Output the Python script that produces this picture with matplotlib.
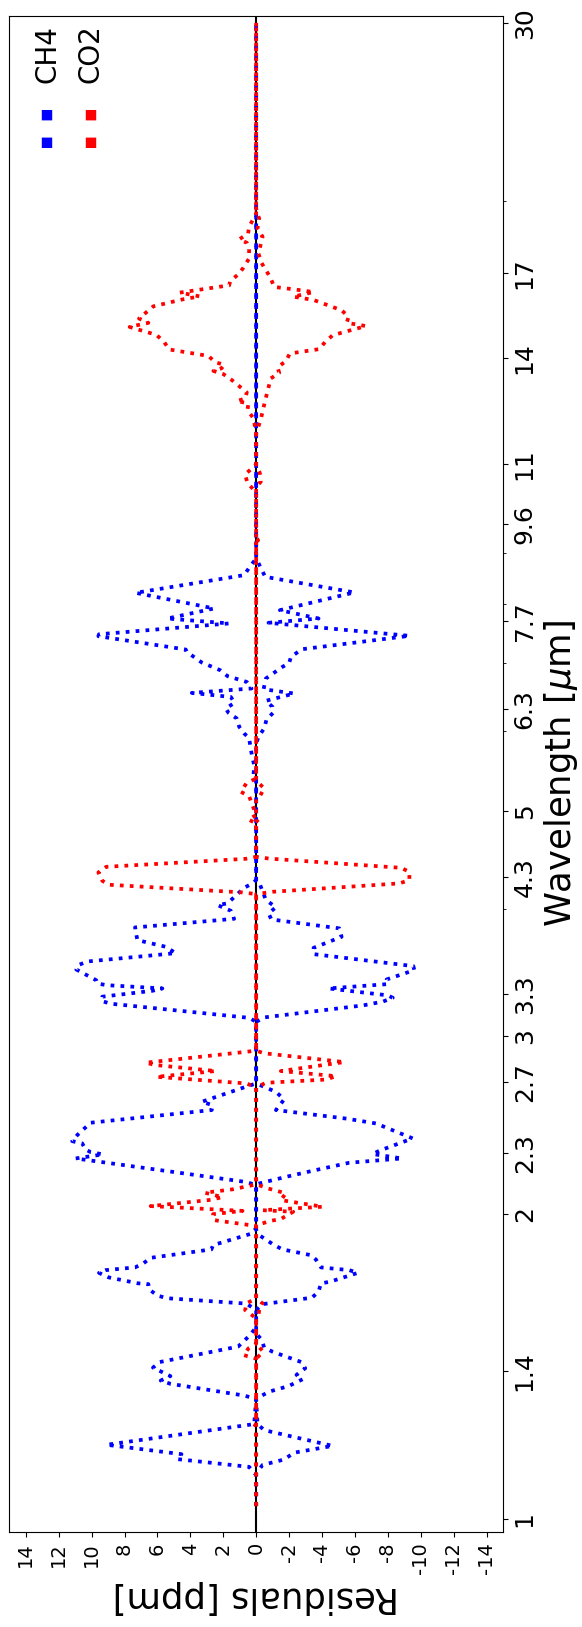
import matplotlib
matplotlib.use("Agg")
import matplotlib.pyplot as plt
from matplotlib.ticker import FixedLocator, FixedFormatter, NullFormatter

# (wavelength [um], residual [ppm]) vertices of each residual curve
ch4_upper = [
    (1.03, 0), (1.105, 0), (1.126, 0.43), (1.146, 4.79), (1.159, 4.54), (1.184, 9.09),
    (1.241, 0.12), (1.315, 0), (1.325, 0.83), (1.360, 5.21), (1.370, 5.80), (1.384, 5.21),
    (1.411, 6.27), (1.429, 5.86), (1.480, 1.10), (1.516, 0.43), (1.546, 0), (1.608, 0),
    (1.632, 0.59), (1.652, 5.40), (1.662, 6.00), (1.686, 6.51), (1.706, 6.55), (1.709, 7.18),
    (1.732, 8.95), (1.750, 9.55), (1.761, 9.15), (1.772, 7.36), (1.788, 6.86), (1.811, 6.41),
    (1.846, 2.72), (1.864, 2.62), (1.914, 0.26), (1.938, 0), (2.138, 0), (2.153, 0.73),
    (2.270, 10.97), (2.291, 9.31), (2.303, 10.06), (2.317, 10.37), (2.349, 10.57),
    (2.361, 11.18), (2.394, 10.87), (2.462, 10.06), (2.534, 2.70), (2.563, 2.66),
    (2.582, 3.31), (2.675, 0.53), (2.692, 0), (3.097, 0), (3.125, 0.43), (3.227, 8.84),
    (3.247, 9.39), (3.279, 9.35), (3.323, 6.31), (3.341, 5.70), (3.366, 9.09), (3.379, 9.66),
    (3.404, 9.72), (3.488, 10.93), (3.523, 10.81), (3.552, 10.26), (3.620, 4.89),
    (3.673, 5.50), (3.729, 7.22), (3.838, 7.36), (3.914, 1.34), (3.986, 1.54), (4.038, 2.35),
    (4.054, 1.74), (4.200, 0.73), (4.242, 0.22), (4.274, 0), (5.343, 0), (5.425, 0.16),
    (5.550, 0.12), (5.677, 0.26), (5.899, 0.43), (5.966, 0.73), (6.056, 1.03), (6.172, 1.18),
    (6.251, 1.68), (6.314, 1.85), (6.394, 1.32), (6.481, 1.54), (6.541, 3.91), (6.607, 0.28),
    (6.706, 0.57), (6.795, 1.74), (6.888, 2.19), (7.010, 3.31), (7.181, 4.22), (7.219, 4.28),
    (7.441, 9.59), (7.474, 9.55), (7.660, 1.64), (7.746, 5.40), (7.925, 2.56), (8.212, 7.32),
    (8.549, 0.73), (8.711, 0.39), (8.880, 0), (30.0, 0),
]

ch4_lower = [
    (1.03, 0), (1.109, 0), (1.131, -0.39), (1.145, -1.70), (1.163, -2.31), (1.181, -4.65),
    (1.224, -0.49), (1.241, -0.08), (1.315, 0), (1.336, -0.79), (1.353, -1.97), (1.374, -2.82),
    (1.388, -2.45), (1.409, -2.98), (1.429, -2.74), (1.463, -0.99), (1.477, -0.49),
    (1.504, -0.32), (1.525, 0), (1.608, 0), (1.630, -0.39), (1.654, -3.39), (1.677, -3.79),
    (1.709, -3.94), (1.715, -4.48), (1.750, -6.17), (1.761, -5.66), (1.772, -3.94),
    (1.804, -3.63), (1.822, -3.33), (1.846, -1.60), (1.864, -1.10), (1.907, -0.18), (1.929, 0),
    (2.141, 0), (2.177, -1.81), (2.211, -3.63), (2.248, -5.66), (2.270, -8.86), (2.293, -7.08),
    (2.310, -7.48), (2.376, -9.51), (2.458, -7.28), (2.485, -5.50), (2.534, -1.20),
    (2.596, -1.70), (2.641, -1.20), (2.692, 0), (3.097, 0), (3.128, -0.49), (3.215, -6.51),
    (3.242, -7.69), (3.271, -8.30), (3.289, -7.99), (3.341, -4.40), (3.374, -7.99),
    (3.410, -7.93), (3.483, -9.61), (3.515, -9.55), (3.612, -3.49), (3.664, -3.49),
    (3.757, -5.19), (3.830, -5.05), (3.908, -0.93), (3.962, -0.75), (4.018, -1.20),
    (4.085, -0.59), (4.236, -0.22), (4.274, 0), (5.831, 0), (5.920, -0.14), (6.035, -0.49),
    (6.158, -0.63), (6.251, -1.03), (6.337, -0.99), (6.424, -0.59), (6.532, -2.31),
    (6.596, -0.45), (6.759, -0.59), (6.940, -1.60), (7.003, -2.01), (7.099, -2.11),
    (7.224, -2.78), (7.447, -9.31), (7.671, -0.75), (7.746, -3.79), (7.894, -1.44),
    (8.219, -5.96), (8.516, -0.55), (8.691, -0.28), (8.880, 0), (30.0, 0),
]

co2_upper = [
    (1.03, 0), (1.236, 0), (1.241, 0.16), (1.246, 0), (1.440, 0), (1.452, 0.77), (1.474, 0.47),
    (1.490, 0), (1.578, 0), (1.590, 0.26), (1.608, 0.67), (1.633, 0.59), (1.651, 0),
    (1.947, 0), (1.973, 2.56), (2.000, 2.62), (2.015, 0.83), (2.024, 3.06), (2.037, 6.41),
    (2.066, 2.76), (2.079, 2.05), (2.100, 3.12), (2.116, 1.44), (2.140, 0), (2.668, 0),
    (2.692, 0.59), (2.733, 6.06), (2.769, 2.45), (2.807, 6.11), (2.822, 6.71), (2.900, 0),
    (4.140, 0), (4.156, 0.83), (4.229, 8.95), (4.267, 9.35), (4.349, 9.59), (4.405, 9.11),
    (4.486, 0.63), (4.506, 0), (4.862, 0), (4.905, 0.47), (4.955, 0), (5.172, 0.43),
    (5.224, 0.93), (5.327, 0.59), (5.385, 0), (9.20, 0), (9.256, 0.16), (9.31, 0),
    (10.30, 0), (10.37, 0.12), (10.54, 0.53), (10.75, 0.67), (10.91, 0.22), (11.0, 0),
    (11.80, 0), (12.21, 0.16), (12.44, 0.53), (12.63, 0.47), (12.70, 1.18), (12.77, 0.67),
    (12.95, 0.57), (13.32, 1.48), (13.50, 1.99), (13.60, 2.60), (13.68, 2.11), (13.79, 1.93),
    (13.87, 2.49), (14.07, 2.90), (14.28, 5.29), (14.53, 5.60), (14.76, 6.06), (14.95, 7.22),
    (15.03, 7.69), (15.11, 7.06), (15.17, 6.55), (15.32, 7.12), (15.75, 6.25), (16.00, 4.48),
    (16.11, 3.43), (16.25, 4.64), (16.52, 1.64), (16.68, 1.58), (16.94, 1.08), (17.20, 0.77),
    (17.56, 0.43), (17.97, 0.43), (18.20, 0.57), (18.34, 1.03), (18.59, 0.49), (18.87, 0.43),
    (19.45, 0), (30.0, 0),
]

co2_lower = [
    (1.03, 0), (1.440, 0), (1.463, -0.43), (1.490, 0), (1.578, 0), (1.590, -0.14),
    (1.620, -0.22), (1.633, -0.39), (1.651, 0), (1.950, 0), (1.970, -0.89), (1.978, -1.50),
    (2.011, -2.25), (2.018, -0.39), (2.034, -4.04), (2.065, -1.50), (2.097, -1.80),
    (2.121, -0.69), (2.141, 0), (2.668, 0), (2.696, -0.59), (2.716, -4.24), (2.737, -4.85),
    (2.769, -1.50), (2.826, -5.35), (2.883, -0.49), (2.900, 0), (4.140, 0), (4.162, -0.99),
    (4.242, -8.70), (4.274, -9.31), (4.355, -9.31), (4.395, -8.80), (4.488, -0.79),
    (4.506, 0), (4.83, 0), (4.855, -0.22), (4.90, 0), (5.14, 0), (5.172, -0.22),
    (5.264, -0.49), (5.36, 0), (9.20, 0), (9.256, -0.12), (9.31, 0), (10.45, 0),
    (10.57, -0.28), (10.79, -0.22), (10.95, 0), (11.80, 0), (12.18, -0.28), (12.72, -0.55),
    (13.37, -0.89), (13.54, -1.40), (13.71, -1.30), (13.91, -1.81), (14.15, -2.05),
    (14.29, -3.83), (14.53, -4.20), (14.75, -4.65), (15.06, -6.67), (15.17, -5.50),
    (15.38, -5.62), (15.61, -5.19), (15.98, -3.49), (16.10, -2.25), (16.27, -3.49),
    (16.37, -2.31), (16.46, -1.10), (16.83, -0.85), (17.39, -0.32), (17.76, -0.14),
    (18.45, -0.39), (18.80, -0.08), (19.23, -0.18), (19.67, 0), (30.0, 0),
]

gas_names = ["CH4", "CO2"]
gas_colors = ["blue", "red"]

wl_ticks = [1, 1.4, 2, 2.3, 2.7, 3, 3.3, 4.3, 5, 6.3, 7.7, 9.6, 11, 14, 17, 30]
wl_tick_labels = ["1", "1.4", "2", "2.3", "2.7", "3", "3.3", "4.3", "5", "6.3", "7.7",
                  "9.6", "11", "14", "17", "30"]
res_ticks = list(range(-14, 15, 2))
res_tick_labels = [str(v) for v in res_ticks]

fig = plt.figure(figsize=(5.82, 16.27), dpi=100)
ax = fig.add_axes([0.016, 0.0581, 0.8483, 0.9323])

# zero reference line under the residual curves
ax.axvline(0, color="black", lw=1.5, zorder=1)

for series, color in [(ch4_upper, gas_colors[0]), (ch4_lower, gas_colors[0]),
                      (co2_upper, gas_colors[1]), (co2_lower, gas_colors[1])]:
    wl = [p[0] for p in series]
    res = [p[1] for p in series]
    ax.plot(res, wl, ls=":", lw=2.7, color=color, zorder=2)

# wavelength runs up the page on a log scale, residuals run right-to-left
ax.set_yscale("log")
ax.set_ylim(0.97, 30.5)
ax.set_xlim(15, -15)

ax.yaxis.set_major_locator(FixedLocator(wl_ticks))
ax.yaxis.set_major_formatter(FixedFormatter(wl_tick_labels))
ax.yaxis.set_minor_formatter(NullFormatter())
ax.yaxis.tick_right()
ax.yaxis.set_label_position("right")
ax.tick_params(axis="y", which="major", labelsize=18, labelrotation=90)
for lbl in ax.get_yticklabels():
    lbl.set_verticalalignment("center")

ax.xaxis.set_major_locator(FixedLocator(res_ticks))
ax.xaxis.set_major_formatter(FixedFormatter(res_tick_labels))
ax.tick_params(axis="x", labelsize=14, labelrotation=90)

ax.set_xlabel("Residuals [ppm]", fontsize=25.5, rotation=180)
ax.set_ylabel("Wavelength [$\\mu$m]", fontsize=25.5)

# legend drawn upright along the wavelength axis
for i, (name, color) in enumerate(zip(gas_names, gas_colors)):
    xa = 0.0764 + i * 0.089
    ax.plot([xa, xa], [0.9128, 0.9418], transform=ax.transAxes, ls=":", lw=7.5,
            color=color, clip_on=False)
    ax.text(xa, 0.9556, name, transform=ax.transAxes, rotation=90, fontsize=20,
            ha="center", va="bottom")

fig.savefig("out.png", dpi=100)
